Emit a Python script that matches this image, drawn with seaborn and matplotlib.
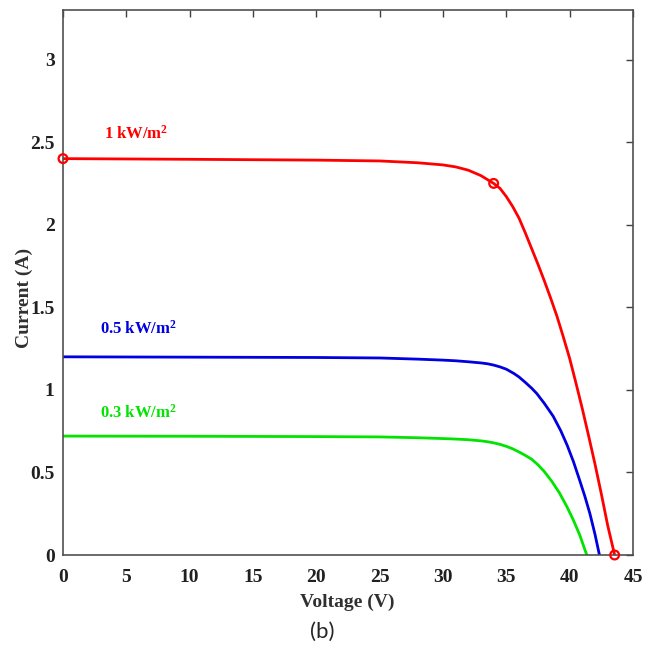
import matplotlib
matplotlib.use("Agg")
import matplotlib.pyplot as plt
import seaborn as sns
import pandas as pd

# ---- data ----
v_1kw = [0, 10, 20, 25, 28, 30, 31, 32, 33, 34, 34.5, 35, 35.5, 36, 36.5, 37, 37.5, 38, 38.5,
         39, 39.5, 40, 40.5, 41, 41.5, 42, 42.5, 43, 43.55]
i_1kw = [2.400, 2.396, 2.391, 2.386, 2.375, 2.362, 2.350, 2.330, 2.297, 2.250, 2.220, 2.170,
         2.110, 2.040, 1.950, 1.855, 1.760, 1.660, 1.555, 1.445, 1.320, 1.190, 1.040, 0.885,
         0.720, 0.550, 0.370, 0.180, 0.0]

v_05kw = [0, 10, 20, 25, 28, 30, 31, 32, 33, 33.5, 34, 34.5, 35, 35.6, 36, 36.5, 37, 37.4, 38,
          38.7, 39.3, 39.8, 40.3, 40.8, 41.2, 41.6, 42, 42.35]
i_05kw = [1.200, 1.198, 1.196, 1.193, 1.186, 1.180, 1.176, 1.170, 1.163, 1.158, 1.150, 1.139,
          1.125, 1.099, 1.078, 1.045, 1.010, 0.978, 0.918, 0.840, 0.752, 0.665, 0.565, 0.450,
          0.355, 0.250, 0.125, 0.0]

v_03kw = [0, 10, 20, 25, 28, 30, 31, 32, 33, 33.5, 34, 34.5, 35, 35.5, 36.1, 36.5, 37, 37.5,
          38, 38.6, 39.2, 39.8, 40.3, 40.8, 41.35]
i_03kw = [0.720, 0.719, 0.717, 0.715, 0.710, 0.705, 0.702, 0.698, 0.691, 0.686, 0.679, 0.670,
          0.658, 0.643, 0.620, 0.603, 0.580, 0.546, 0.505, 0.445, 0.375, 0.290, 0.210, 0.120,
          0.0]

# marked points on the 1 kW/m2 curve (Isc, MPP, Voc)
mark_v = [0, 34, 43.55]
mark_i = [2.40, 2.25, 0.0]

series_names = ["1 kW/m$^{\\mathbf{2}}$", "0.5 kW/m$^{\\mathbf{2}}$", "0.3 kW/m$^{\\mathbf{2}}$"]
label_pos_v = [3.2, 2.9, 2.9]
label_pos_i = [2.55, 1.37, 0.86]
colors = ["#ff0000", "#0000e0", "#00e400"]

x_ticks = [0, 5, 10, 15, 20, 25, 30, 35, 40, 45]
y_ticks = [0, 0.5, 1, 1.5, 2, 2.5, 3]
x_label = "Voltage (V)"
y_label = "Current (A)"
caption = "(b)"

# ---- build table ----
frames = []
for name, vv, ii in zip(series_names, [v_1kw, v_05kw, v_03kw], [i_1kw, i_05kw, i_03kw]):
    frames.append(pd.DataFrame({"V": vv, "I": ii, "G": name}))
df = pd.concat(frames, ignore_index=True)

sns.set_style("white")
plt.rcParams["font.family"] = ["Liberation Serif", "DejaVu Serif"]
plt.rcParams["mathtext.fontset"] = "custom"
plt.rcParams["mathtext.rm"] = "Liberation Serif:bold"
plt.rcParams["mathtext.bf"] = "Liberation Serif:bold"
plt.rcParams["mathtext.it"] = "Liberation Serif:bold"

fig = plt.figure(figsize=(6.56, 6.50), dpi=100)
ax = fig.add_axes([63 / 656, 95 / 650, 570 / 656, 545 / 650])

sns.lineplot(data=df, x="V", y="I", hue="G", palette=dict(zip(series_names, colors)),
             sort=False, estimator=None, linewidth=2.0, legend=False, ax=ax)

sns.scatterplot(x=mark_v, y=mark_i, ax=ax, marker="o", s=40, facecolors="none",
                edgecolor=colors[0], linewidth=1.6, clip_on=False, zorder=5)
for c in ax.collections:
    c.set_clip_on(False)

for name, lv, li, col in zip(series_names, label_pos_v, label_pos_i, colors):
    ax.text(lv, li, name, color=col, fontsize=12, fontweight="bold", va="center", ha="left")

ax.set_xlim(0, 45)
ax.set_ylim(0, 3.3)
ax.set_xticks(x_ticks)
ax.set_yticks(y_ticks)
ax.set_xticklabels([str(t) for t in x_ticks])
ax.set_yticklabels([("%g" % t) for t in y_ticks])
ax.tick_params(direction="in", length=5, width=1, color="#404040", top=True, right=True,
               labelsize=14)
ax.tick_params(axis="x", pad=10)
ax.tick_params(axis="y", pad=6)
for lab in ax.get_xticklabels() + ax.get_yticklabels():
    lab.set_fontweight("bold")
    lab.set_color("#202020")
for sp in ax.spines.values():
    sp.set_color("#505050")
    sp.set_linewidth(1.2)

ax.set_xlabel(x_label, fontsize=14, fontweight="bold", color="#303030", va="center")
ax.xaxis.set_label_coords((347 - 63) / 570, -(602 - 555) / 545)
ax.set_ylabel(y_label, fontsize=14, fontweight="bold", color="#303030", va="center")
ax.yaxis.set_label_coords((24 - 63) / 570, (555 - 298) / 545)
fig.text(322 / 656, 1 - 632 / 650, caption, fontsize=16, ha="center", va="center",
         family=["Lato", "DejaVu Sans"])

fig.savefig("out.png", dpi=100)
